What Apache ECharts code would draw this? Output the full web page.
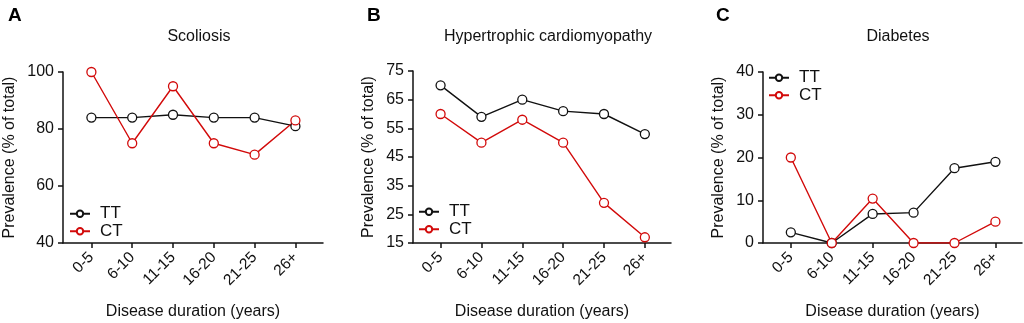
<!DOCTYPE html>
<html>
<head>
<meta charset="utf-8">
<script src="https://cdn.jsdelivr.net/npm/echarts@6/dist/echarts.min.js"></script>
<style>
  html, body { margin: 0; padding: 0; background: #fff; }
  #chart { width: 1024px; height: 323px; }
</style>
</head>
<body>
<div id="chart"></div>
<script>
const categories = ['0-5', '6-10', '11-15', '16-20', '21-25', '26+'];
const scoliosisTT = [84, 84, 85, 84, 84, 81];
const scoliosisCT = [100, 75, 95, 75, 71, 83];
const cardioTT = [70, 59, 65, 61, 60, 53];
const cardioCT = [60, 50, 58, 50, 29, 17];
const diabetesTT = [2.5, 0, 6.8, 7.1, 17.5, 19];
const diabetesCT = [20, 0, 10.4, 0, 0, 5];
const ticksA = [40, 60, 80, 100];
const ticksB = [15, 25, 35, 45, 55, 65, 75];
const ticksC = [0, 10, 20, 30, 40];

const FONT = 'Liberation Sans';
const BLACK = '#111';
const RED = '#d20a0a';
const catIdx = categories.map((c, i) => i);

const pairs = vals => vals.map((v, i) => [i, v]);

// one entry per panel A, B, C
const panels = [
  {grid: {left: 63, right: 701, top: 72, bottom: 80}, x: [-0.696, 5.676], y: ticksA, nameGap: 45,
   tt: scoliosisTT, ct: scoliosisCT, title: 'Scoliosis', tx: 194, letter: 'A', lx: 3,
   legend: {left: 69, top: 205}},
  {grid: {left: 413, right: 353, top: 71, bottom: 80}, x: [-0.675, 5.64], y: ticksB, nameGap: 36,
   tt: cardioTT, ct: cardioCT, title: 'Hypertrophic cardiomyopathy', tx: 543, letter: 'B', lx: 362,
   legend: {left: 418, top: 203}},
  {grid: {left: 763, right: 2, top: 72, bottom: 80}, x: [-0.68, 5.65], y: ticksC, nameGap: 36,
   tt: diabetesTT, ct: diabetesCT, title: 'Diabetes', tx: 893, letter: 'C', lx: 711,
   legend: {left: 768, top: 69}}
];

const axisLine = {onZero: false, lineStyle: {color: BLACK, width: 1.5}};
const axisTick = {length: 5, lineStyle: {color: BLACK, width: 1.5}};

const option = {
  animation: false,
  textStyle: {fontFamily: FONT},
  title: panels.flatMap(p => [
    {text: p.letter, left: p.lx, top: 1, textStyle: {fontFamily: FONT, fontSize: 19, fontWeight: 'bold', color: '#000'}},
    {text: p.title, left: p.tx, top: 24, textAlign: 'center', textStyle: {fontFamily: FONT, fontSize: 16, fontWeight: 'normal', color: '#111'}}
  ]),
  legend: panels.map((p, i) => ({
    data: ['TT', 'CT'].map(n => ({name: n + '_' + i})),
    orient: 'vertical', left: p.legend.left, top: p.legend.top, padding: 0,
    itemWidth: 20, itemHeight: 8, itemGap: 0,
    formatter: n => n.split('_')[0],
    textStyle: {fontFamily: FONT, fontSize: 17, lineHeight: 17.5, color: '#111', padding: [0, 0, 0, 5]}
  })),
  grid: panels.map(p => Object.assign({outerBoundsMode: 'none', containLabel: false}, p.grid)),
  xAxis: panels.map((p, i) => ({
    type: 'value', gridIndex: i, min: p.x[0], max: p.x[1],
    name: 'Disease duration (years)', nameLocation: 'middle', nameGap: 61,
    nameTextStyle: {fontFamily: FONT, fontSize: 16, color: '#111'},
    splitLine: {show: false},
    axisLine: axisLine,
    axisTick: Object.assign({customValues: catIdx}, axisTick),
    axisLabel: {customValues: catIdx, rotate: 45, fontFamily: FONT, fontSize: 15.5, color: '#111', margin: 12,
      formatter: v => categories[Math.round(v)]}
  })),
  yAxis: panels.map((p, i) => ({
    type: 'value', gridIndex: i, min: p.y[0], max: p.y[p.y.length - 1],
    name: 'Prevalence (% of total)', nameLocation: 'middle', nameGap: p.nameGap,
    nameTextStyle: {fontFamily: FONT, fontSize: 16, color: '#111'},
    splitLine: {show: false},
    axisLine: axisLine,
    axisTick: Object.assign({customValues: p.y}, axisTick),
    axisLabel: {customValues: p.y, fontFamily: FONT, fontSize: 16, color: '#111', margin: 9}
  })),
  series: panels.flatMap((p, i) => [
    {name: 'TT_' + i, vals: p.tt, color: BLACK},
    {name: 'CT_' + i, vals: p.ct, color: RED}
  ].map(s => ({
    name: s.name, type: 'line', xAxisIndex: i, yAxisIndex: i,
    data: pairs(s.vals),
    symbol: 'circle', symbolSize: 9,
    itemStyle: {color: '#fff', borderColor: s.color, borderWidth: 1.3},
    lineStyle: {color: s.color, width: 1.4}
  })))
};

const chart = echarts.init(document.getElementById('chart'));
chart.setOption(option);
</script>
</body>
</html>
